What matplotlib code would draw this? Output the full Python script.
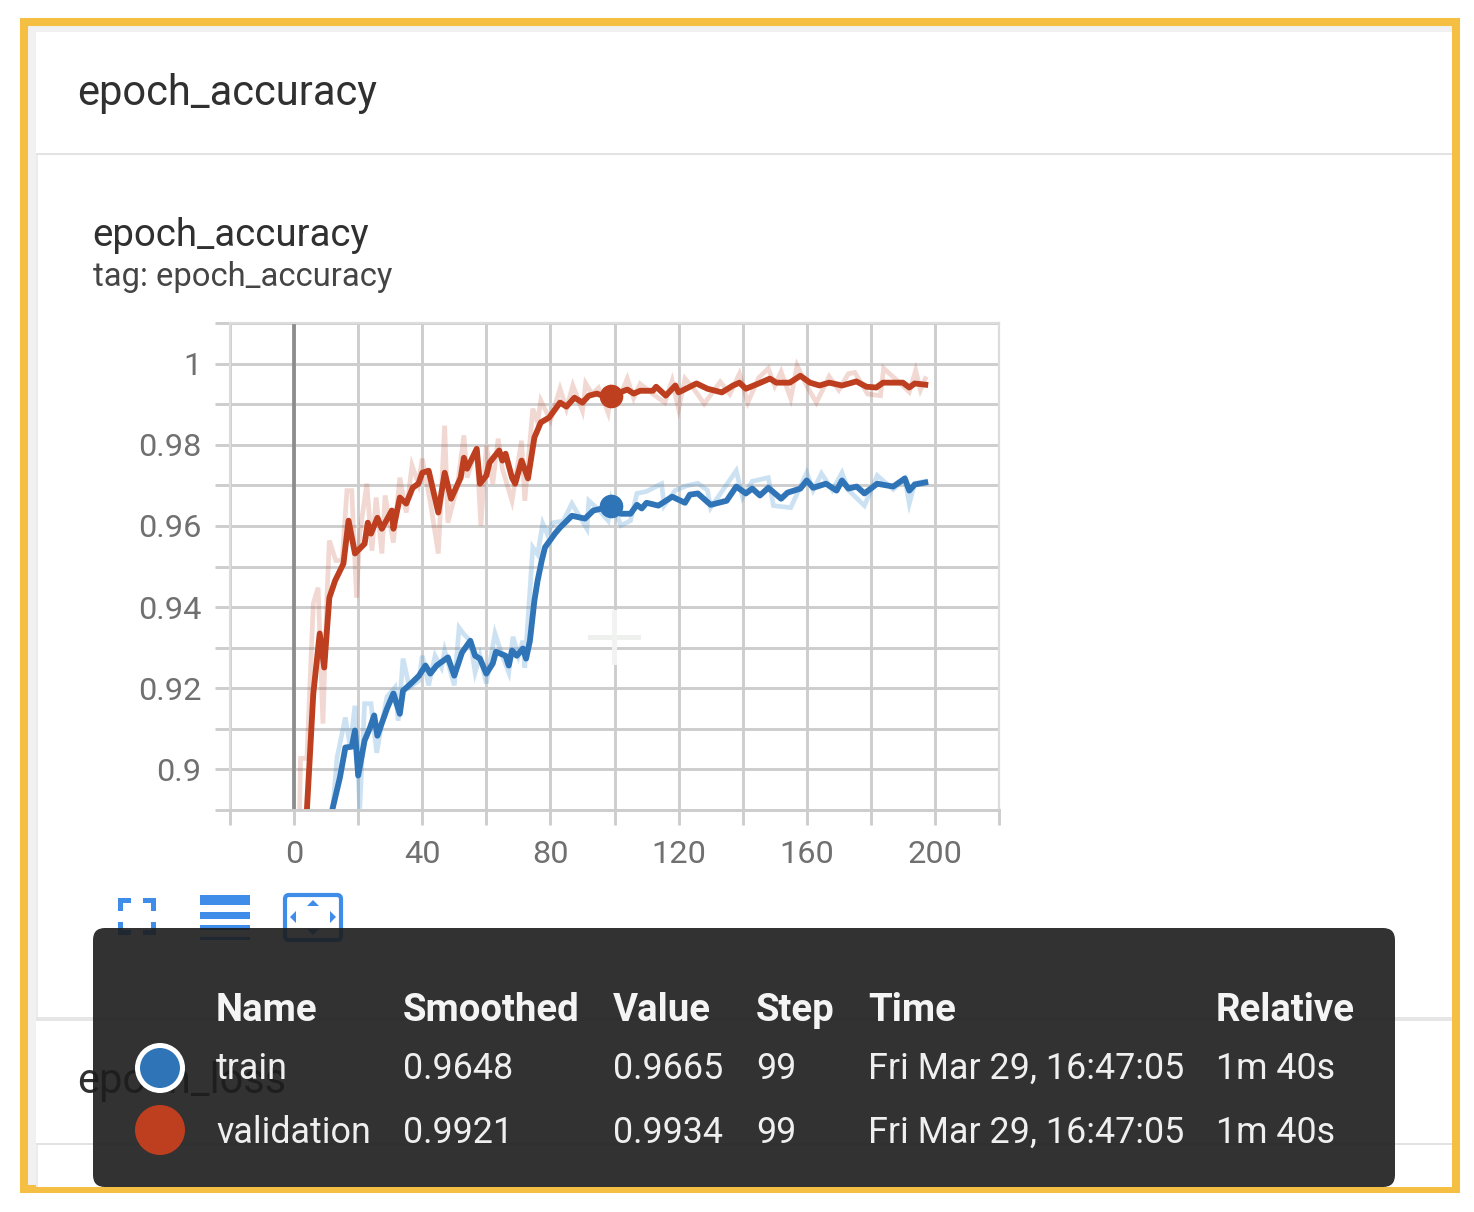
import numpy as np
import matplotlib
matplotlib.use('Agg')
import matplotlib.pyplot as plt
from matplotlib.patches import FancyBboxPatch, Rectangle, Circle, Polygon

plt.rcParams['font.family'] = ['Roboto', 'DejaVu Sans']

# smoothed curves
val_steps = [3, 4, 6, 8, 9.4, 11, 12.8, 15.4, 17, 19, 22, 23, 24, 26, 27.4, 30.5, 31, 33, 35, 37, 38.8, 40, 42, 45, 47, 49, 52, 53, 54, 57, 58, 60, 61, 64, 65, 66, 68, 69, 71, 73, 75, 77, 79.6, 83, 85, 87.5, 90, 92, 94.5, 97, 99, 104, 106, 108, 112, 113, 116, 119, 120, 125.6, 129, 133.5, 137, 139, 141, 145, 148.5, 150.5, 154.7, 158, 161, 164, 167, 171, 175.5, 178.6, 181.7, 183.8, 190, 192, 193.7, 197]
val_smooth = [.880, .890, .9187, .9335, .9251, .9423, .9465, .9507, .9613, .9532, .9556, .9608, .9581, .9620, .9593, .9638, .9593, .9670, .9655, .9694, .9704, .9731, .9736, .9633, .9731, .9667, .9719, .9768, .9741, .9790, .9704, .9724, .9756, .9786, .9761, .9778, .9719, .9704, .9761, .9717, .9818, .9855, .9867, .9904, .9894, .9916, .9904, .9921, .9926, .9919, .9921, .9936, .9926, .9933, .9933, .9943, .9921, .9946, .9929, .9951, .9938, .9929, .9946, .9953, .9938, .9951, .9963, .9953, .9953, .9970, .9953, .9946, .9953, .9946, .9956, .9943, .9941, .9953, .9953, .9941, .9951, .9948]

train_steps = [11, 12, 14.3, 16, 18, 19, 20, 22, 23.7, 25, 26, 29, 31, 33, 34, 36.8, 39, 41, 42.5, 44.5, 48, 50, 52.4, 55, 56.5, 58, 60, 62, 63, 66, 67, 68, 69.5, 71.4, 72.4, 73.6, 75, 76, 77.3, 78.3, 81.4, 83, 86.7, 90.8, 93.4, 99, 102, 105, 107, 108.5, 110, 113.7, 118, 122, 123.5, 126, 130, 135, 138, 141, 143, 145.4, 148, 152, 154, 158, 160, 162, 166, 169.3, 171, 173, 175.6, 178, 182, 187, 190.6, 192, 193.7, 197]
train_smooth = [.880, .8903, .898, .9054, .9056, .9096, .8985, .9071, .9103, .9133, .9083, .915, .9187, .9137, .9194, .9214, .9231, .9256, .9236, .9256, .9276, .9231, .9288, .9317, .9280, .9273, .9236, .9261, .9290, .9280, .9256, .9293, .9280, .9298, .9273, .9317, .9416, .9465, .9515, .9547, .9581, .9596, .9625, .9618, .9638, .9648, .9630, .9630, .9652, .9643, .9657, .9650, .9672, .9657, .9677, .9680, .9652, .9662, .9697, .9680, .9692, .9675, .9694, .9667, .9682, .9692, .9712, .9694, .9704, .9687, .9712, .9692, .9697, .9680, .9704, .9697, .9717, .9687, .9702, .9707]

# raw values, the pale spiky lines behind
val_raw_steps = [1.5, 2, 4, 6, 7.5, 9, 10.3, 11, 13, 15, 16.5, 18, 19.5, 20.5, 22.7, 24.3, 25.6, 27.4, 28.4, 31, 33, 35, 36.8, 38.8, 40, 42.7, 45, 47, 48, 51, 53, 54, 57, 58.3, 60, 62, 63.7, 65, 68, 71, 72, 74.5, 76, 77, 80, 83, 85, 87, 90, 91, 93, 95, 97, 98, 99, 101, 104, 106, 108, 112, 115.7, 118, 120, 122, 125, 128, 133, 136, 139, 141.6, 145, 148, 150, 152, 155, 157, 160, 163, 167, 170, 173, 175, 179, 183, 184, 188, 192, 194, 195.5, 197]
val_raw = [.880, .9027, .9027, .9409, .9448, .9113, .9433, .9564, .9515, .9515, .9687, .9687, .9423, .9581, .9704, .9539, .9670, .9532, .9675, .9559, .9719, .9633, .9749, .9704, .9766, .9650, .9532, .9847, .9608, .9700, .9823, .9719, .9793, .9601, .9798, .9704, .9815, .9741, .9662, .9810, .9662, .9889, .9855, .9909, .9860, .9938, .9889, .9946, .9884, .9951, .9925, .9940, .9900, .9879, .9934, .9905, .9963, .9915, .9950, .9925, .9904, .9958, .9889, .9963, .9935, .9901, .9955, .9925, .9975, .9904, .9965, .9988, .9945, .9980, .9914, .9995, .9945, .9904, .9968, .9935, .9975, .9978, .9925, .9921, .9988, .9960, .9930, .9983, .9935, .9963]

train_raw_steps = [11, 13.4, 16, 17.5, 19, 20.5, 22, 24, 25.8, 27, 29, 31.5, 32.5, 34, 36, 39, 40, 42, 44, 46, 47, 50, 51.5, 53, 55, 56.5, 58, 60, 62.7, 65, 67, 68.3, 70, 71.4, 72, 74.5, 76, 77.6, 79, 80.9, 84, 86.7, 91.4, 92, 95, 98, 99, 102, 105, 107, 110, 114.7, 115.5, 119, 122.6, 126, 129, 130, 138, 140, 143, 148, 149.6, 155, 160, 162, 164.6, 168, 171, 173, 178, 182, 187, 190.6, 192, 193.7, 197]
train_raw = [.880, .9029, .9128, .9056, .9157, .8903, .9162, .9162, .9041, .9097, .9179, .9202, .9120, .9273, .9202, .9219, .9280, .9207, .9280, .9251, .9293, .9207, .9349, .9333, .9317, .9239, .9280, .9212, .9335, .9280, .9239, .9327, .9280, .9317, .9251, .9547, .9530, .9606, .9580, .9608, .9612, .9655, .9593, .9662, .9640, .9613, .9665, .9601, .9613, .9680, .9685, .9704, .9650, .9688, .9699, .9705, .9688, .9645, .9736, .9670, .9710, .9719, .9650, .9645, .9731, .9688, .9729, .9688, .9731, .9688, .9650, .9724, .9690, .9717, .9655, .9705, .9710]

hover_step = 99
hover_val = .9921
hover_train = .9648

x_ticks = np.arange(-20, 221, 20)
x_tick_labels = ['', '0', '', '40', '', '80', '', '120', '', '160', '', '200', '']
y_ticks = np.arange(0.89, 1.011, 0.01)
y_tick_labels = ['', '0.9', '', '0.92', '', '0.94', '', '0.96', '', '0.98', '', '1', '']

table_cols = ['Name', 'Smoothed', 'Value', 'Step', 'Time', 'Relative']
train_row = ['train', '0.9648', '0.9665', '99', 'Fri Mar 29, 16:47:05', '1m 40s']
val_row = ['validation', '0.9921', '0.9934', '99', 'Fri Mar 29, 16:47:05', '1m 40s']

W, H = 1474, 1212
BLUE = '#2f74b7'
RED = '#bd3f1f'
ICON = '#3f8de8'
GRID = '#cdcdcd'

fig = plt.figure(figsize=(W / 100, H / 100), dpi=100, facecolor='white')

# page behind the chart, drawn in pixel coordinates
bg = fig.add_axes([0, 0, 1, 1], zorder=0)
bg.set_xlim(0, W)
bg.set_ylim(H, 0)
bg.axis('off')
bg.add_patch(Rectangle((24, 22), 1432, 1167, fc='#f1f1f1', ec='#f4bf42', lw=5.8))
bg.add_patch(Rectangle((36, 32), 1416, 1155, fc='white', ec='none'))
bg.add_patch(Rectangle((36, 153), 1416, 2, fc='#e3e3e3', ec='none'))
bg.add_patch(Rectangle((36, 155), 2, 863, fc='#ececec', ec='none'))
bg.add_patch(Rectangle((36, 1017), 1416, 4, fc='#e6e6e6', ec='none'))
bg.add_patch(Rectangle((36, 1143), 1416, 2, fc='#e3e3e3', ec='none'))
bg.add_patch(Rectangle((36, 1145), 2, 42, fc='#ececec', ec='none'))
bg.text(77, 105, 'epoch_accuracy', fontsize=30, color='#303030')
bg.text(92.5, 246, 'epoch_accuracy', fontsize=27.6, color='#303030')
bg.text(93, 286, 'tag: epoch_accuracy', fontsize=23.6, color='#454545')
bg.text(77, 1093, 'epoch_loss', fontsize=30, color='#303030')

# chart
ax = fig.add_axes([230 / W, 1 - 810 / H, 769 / W, 487 / H], zorder=1)
ax.set_xlim(-20, 220)
ax.set_ylim(0.89, 1.01)
ax.set_facecolor('none')
ax.set_xticks(x_ticks)
ax.set_xticklabels(x_tick_labels)
ax.set_yticks(y_ticks)
ax.set_yticklabels(y_tick_labels)
ax.grid(True, color=GRID, lw=2.1)
ax.set_axisbelow(True)
ax.tick_params(length=10.5, width=2.1, color=GRID, labelsize=23.4, labelcolor='#707070')
ax.tick_params(axis='x', pad=11)
ax.tick_params(axis='y', pad=10)
for s in ax.spines.values():
    s.set_color('#dcdcdc')
    s.set_linewidth(1.6)
ax.spines['bottom'].set_color(GRID)
ax.spines['bottom'].set_linewidth(2.1)
ax.axvline(0, color='#8c8c8c', lw=2.7, zorder=1.5)

ax.plot(val_raw_steps, val_raw, color=RED, lw=3.4, alpha=0.2, solid_joinstyle='miter')
ax.plot(train_raw_steps, train_raw, color='#4a9ad4', lw=3.4, alpha=0.28, solid_joinstyle='miter')
ax.plot(val_steps, val_smooth, color=RED, lw=4.2)
ax.plot(train_steps, train_smooth, color=BLUE, lw=4.2)
ax.plot([hover_step], [hover_val], 'o', color=RED, ms=17, mew=0)
ax.plot([hover_step], [hover_train], 'o', color=BLUE, ms=17, mew=0)

# toolbar icons, tooltip and cursor on top
ui = fig.add_axes([0, 0, 1, 1], zorder=2)
ui.set_xlim(0, W)
ui.set_ylim(H, 0)
ui.axis('off')
ui.patch.set_alpha(0)

# faint cursor cross
ui.add_patch(Rectangle((588, 635), 53, 5, fc='#eef0ee', ec='none'))
ui.add_patch(Rectangle((612, 610), 5, 55, fc='#f1f2f1', ec='none'))

# fullscreen icon
for x0, y0, dx, dy in [(118, 898, 1, 1), (156, 898, -1, 1), (118, 935, 1, -1), (156, 935, -1, -1)]:
    ui.add_patch(Rectangle((min(x0, x0 + dx * 13), min(y0, y0 + dy * 5)), 13, 5, fc=ICON, ec='none'))
    ui.add_patch(Rectangle((min(x0, x0 + dx * 5), min(y0, y0 + dy * 13)), 5, 13, fc=ICON, ec='none'))
# lines icon
for y0, h in [(895, 10), (912, 7), (925, 5), (937, 3)]:
    ui.add_patch(Rectangle((200, y0), 50, h, fc=ICON, ec='none'))
# fit icon
ui.add_patch(FancyBboxPatch((285, 895), 56, 45, boxstyle='round,pad=0,rounding_size=4', fc='none', ec=ICON, lw=3))
ui.add_patch(Polygon([(307, 906), (319, 906), (313, 900)], fc=ICON, ec='none'))
ui.add_patch(Polygon([(307, 929), (319, 929), (313, 935)], fc=ICON, ec='none'))
ui.add_patch(Polygon([(296, 911), (296, 923), (290, 917)], fc=ICON, ec='none'))
ui.add_patch(Polygon([(330, 911), (330, 923), (336, 917)], fc=ICON, ec='none'))

# tooltip
ui.add_patch(FancyBboxPatch((93, 928), 1302, 259, boxstyle='round,pad=0,rounding_size=12',
                            fc='#1c1c1c', ec='none', alpha=0.9))
col_x = [216, 403, 613, 756, 868, 1216]
for xp, t in zip(col_x, table_cols):
    ui.text(xp, 1021, t, fontsize=27.6, fontweight='bold', color='#f4f4f4')
for xp, t in zip(col_x, train_row):
    ui.text(xp, 1079, t, fontsize=25.8, color='#efefef')
for xp, t in zip(col_x, val_row):
    ui.text(xp, 1143, t, fontsize=25.8, color='#efefef')
ui.add_patch(Circle((160, 1068), 22.5, fc=BLUE, ec='white', lw=3.6))
ui.add_patch(Circle((160, 1130), 25, fc=RED, ec='none'))

fig.savefig('out.png', dpi=100)
